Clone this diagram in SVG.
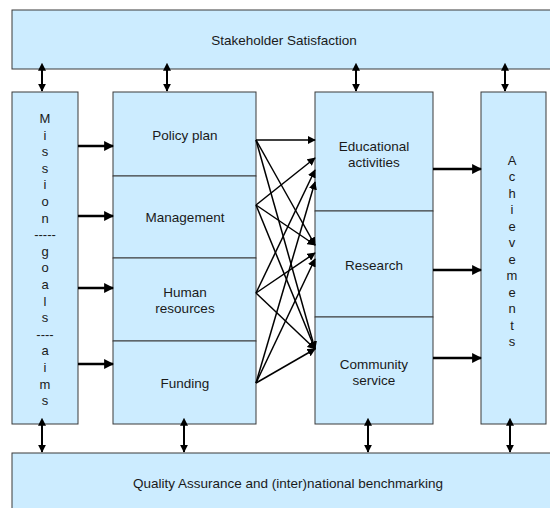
<svg xmlns="http://www.w3.org/2000/svg" width="550" height="508" viewBox="0 0 550 508">
<defs>
<style>
.box{fill:#CCECFF;stroke:#3a3a3a;stroke-width:1}
.t{font-family:"Liberation Sans",Arial,sans-serif;font-size:13.5px;fill:#1a1a1a;text-anchor:middle}
.v{font-family:"Liberation Sans",Arial,sans-serif;font-size:13px;fill:#1a1a1a;text-anchor:middle}
.thick{stroke:#000;stroke-width:2.6;fill:none;marker-end:url(#ah)}
.thin{stroke:#000;stroke-width:1.5;fill:none;marker-end:url(#ah2)}
.dbl{stroke:#000;stroke-width:2;fill:none;marker-start:url(#ahs);marker-end:url(#ahe)}
</style>
<marker id="ah" viewBox="0 0 10 10" refX="9" refY="5" markerWidth="3.8" markerHeight="3.8" orient="auto" markerUnits="strokeWidth"><path d="M0,0 L10,5 L0,10 z" fill="#000"/></marker>
<marker id="ah2" viewBox="0 0 10 10" refX="9" refY="5" markerWidth="5.5" markerHeight="5.5" orient="auto" markerUnits="strokeWidth"><path d="M0,0 L10,5 L0,10 z" fill="#000"/></marker>
<marker id="ahe" viewBox="0 0 10 10" refX="9" refY="5" markerWidth="4" markerHeight="4" orient="auto" markerUnits="strokeWidth"><path d="M0,0 L10,5 L0,10 z" fill="#000"/></marker>
<marker id="ahs" viewBox="0 0 10 10" refX="1" refY="5" markerWidth="4" markerHeight="4" orient="auto-start-reverse" markerUnits="strokeWidth"><path d="M0,0 L10,5 L0,10 z" fill="#000"/></marker>
</defs>
<rect width="550" height="508" fill="#fff"/>

<g id="stakeholder">
<rect class="box" x="12" y="10" width="545" height="59"/>
<text class="t" x="284" y="44.5">Stakeholder Satisfaction</text>
</g>

<g id="quality">
<rect class="box" x="12" y="453" width="545" height="65"/>
<text class="t" x="288" y="488">Quality Assurance and (inter)national benchmarking</text>
</g>

<g id="mission">
<rect class="box" x="12" y="92" width="66" height="332"/>
<text class="v" x="45">
<tspan x="45" y="123">M</tspan><tspan x="45" y="139.6">i</tspan><tspan x="45" y="156.2">s</tspan><tspan x="45" y="172.8">s</tspan><tspan x="45" y="189.4">i</tspan><tspan x="45" y="206">o</tspan><tspan x="45" y="222.6">n</tspan><tspan x="45" y="239.2">-----</tspan><tspan x="45" y="255.8">g</tspan><tspan x="45" y="272.4">o</tspan><tspan x="45" y="289">a</tspan><tspan x="45" y="305.6">l</tspan><tspan x="45" y="322.2">s</tspan><tspan x="45" y="338.8">----</tspan><tspan x="45" y="355.4">a</tspan><tspan x="45" y="372">i</tspan><tspan x="45" y="388.6">m</tspan><tspan x="45" y="405.2">s</tspan>
</text>
</g>

<g id="policy">
<rect class="box" x="113" y="92" width="143" height="84"/>
<text class="t" x="185" y="139.5">Policy plan</text>
</g>
<g id="management">
<rect class="box" x="113" y="176" width="143" height="82"/>
<text class="t" x="185" y="221.5">Management</text>
</g>
<g id="human">
<rect class="box" x="113" y="258" width="143" height="83"/>
<text class="t" x="185" y="296.5">Human</text>
<text class="t" x="185" y="312.5">resources</text>
</g>
<g id="funding">
<rect class="box" x="113" y="341" width="143" height="83"/>
<text class="t" x="185" y="387.5">Funding</text>
</g>

<g id="educational">
<rect class="box" x="315" y="92" width="118" height="119"/>
<text class="t" x="374" y="150.5">Educational</text>
<text class="t" x="374" y="166.5">activities</text>
</g>
<g id="research">
<rect class="box" x="315" y="211" width="118" height="106"/>
<text class="t" x="374" y="269.5">Research</text>
</g>
<g id="community">
<rect class="box" x="315" y="317" width="118" height="107"/>
<text class="t" x="374" y="368.5">Community</text>
<text class="t" x="374" y="384.5">service</text>
</g>

<g id="achievements">
<rect class="box" x="481" y="92" width="65" height="332"/>
<text class="v" x="512">
<tspan x="512" y="164.5">A</tspan><tspan x="512" y="181">c</tspan><tspan x="512" y="197.5">h</tspan><tspan x="512" y="214">i</tspan><tspan x="512" y="230.5">e</tspan><tspan x="512" y="247">v</tspan><tspan x="512" y="263.5">e</tspan><tspan x="512" y="280">m</tspan><tspan x="512" y="296.5">e</tspan><tspan x="512" y="313">n</tspan><tspan x="512" y="329.5">t</tspan><tspan x="512" y="346">s</tspan>
</text>
</g>

<g id="connectors">
<line class="dbl" x1="42" y1="70" x2="42" y2="91"/>
<line class="dbl" x1="167" y1="70" x2="167" y2="91"/>
<line class="dbl" x1="356" y1="70" x2="356" y2="91"/>
<line class="dbl" x1="505" y1="70" x2="505" y2="91"/>
<line class="dbl" x1="42" y1="425" x2="42" y2="452"/>
<line class="dbl" x1="184" y1="425" x2="184" y2="452"/>
<line class="dbl" x1="368" y1="425" x2="368" y2="452"/>
<line class="dbl" x1="510" y1="425" x2="510" y2="452"/>

<line class="thick" x1="78" y1="146" x2="113" y2="146"/>
<line class="thick" x1="78" y1="216" x2="113" y2="216"/>
<line class="thick" x1="78" y1="288" x2="113" y2="288"/>
<line class="thick" x1="78" y1="364" x2="113" y2="364"/>

<line class="thick" x1="433" y1="169" x2="481" y2="169"/>
<line class="thick" x1="433" y1="270" x2="481" y2="270"/>
<line class="thick" x1="433" y1="358" x2="481" y2="358"/>

<line class="thin" x1="256" y1="140" x2="315" y2="140"/>
<line class="thin" x1="256" y1="140" x2="315" y2="245"/>
<line class="thin" x1="256" y1="140" x2="315" y2="349"/>
<line class="thin" x1="256" y1="205" x2="315" y2="158"/>
<line class="thin" x1="256" y1="205" x2="315" y2="245"/>
<line class="thin" x1="256" y1="205" x2="315" y2="349"/>
<line class="thin" x1="256" y1="293" x2="315" y2="170"/>
<line class="thin" x1="256" y1="293" x2="315" y2="253"/>
<line class="thin" x1="256" y1="293" x2="315" y2="349"/>
<line class="thin" x1="256" y1="383" x2="315" y2="182"/>
<line class="thin" x1="256" y1="383" x2="315" y2="259"/>
<line class="thin" x1="256" y1="383" x2="315" y2="349"/>
</g>
</svg>
